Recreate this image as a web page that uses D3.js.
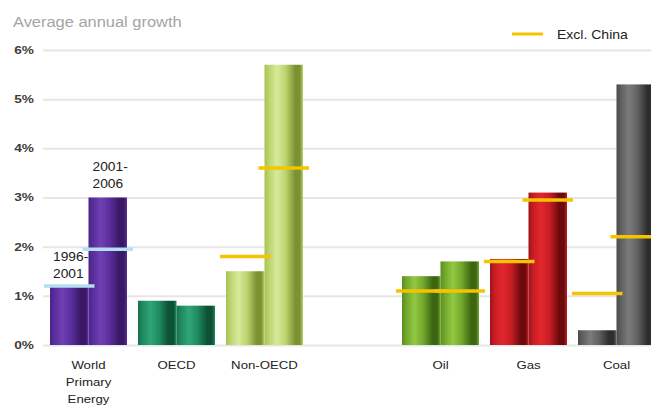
<!DOCTYPE html>
<html>
<head>
<meta charset="utf-8">
<script src="https://cdn.jsdelivr.net/npm/d3@7"></script>
<style>
  html, body { margin: 0; padding: 0; background: #fff; }
  svg { display: block; font-family: "Liberation Sans", Arial, sans-serif; }
</style>
</head>
<body>
<svg id="chart" width="651" height="405"></svg>
<script>
// Energy demand growth by region and fuel, two periods, with "excluding China" markers
const categories = ["World Primary Energy", "OECD", "Non-OECD", "Oil", "Gas", "Coal"];
const categoryLabels = [["World", "Primary", "Energy"], ["OECD"], ["Non-OECD"], ["Oil"], ["Gas"], ["Coal"]];
const periods = ["1996-2001", "2001-2006"];
const growth1996_2001 = [1.2, 0.9, 1.5, 1.4, 1.75, 0.3];
const growth2001_2006 = [3.0, 0.8, 5.7, 1.7, 3.1, 5.3];
const exclChina1996_2001 = [1.2, null, 1.8, 1.1, 1.7, 1.05];
const exclChina2001_2006 = [1.95, null, 3.6, 1.1, 2.95, 2.2];
const yTicks = [0, 1, 2, 3, 4, 5, 6];

// Cylinder shading per category: [edge, light, mid, dark]
const palette = [
  ["#4a2488", "#7040b4", "#5a2e9c", "#3a1866"],
  ["#17704c", "#2fa577", "#1f8a60", "#0d5034"],
  ["#a9c256", "#d9e99a", "#bcd46e", "#7b9132"],
  ["#5c8e20", "#93c842", "#72a82c", "#3d6612"],
  ["#9a1418", "#e2262c", "#c81d24", "#6a0a0c"],
  ["#4a4a4a", "#7c7c7c", "#606060", "#2e2e2e"]
];

const svg = d3.select("#chart");
const W = 651;

// Groups sit in a band scale with an empty slot separating regions from fuels
const slots = ["World Primary Energy", "OECD", "Non-OECD", "__gap", "Oil", "Gas", "Coal"];
const x = d3.scaleBand().domain(slots).range([44.5, 660.5]).paddingInner(0.125).paddingOuter(0.0625);
const xInner = d3.scaleBand().domain(periods).range([0, x.bandwidth()]);
const y = d3.scaleLinear().domain([0, 6]).range([345, 50]);

// Gradients
const defs = svg.append("defs");
palette.forEach((c, i) => {
  const g = defs.append("linearGradient").attr("id", "grad" + i)
    .attr("x1", "0%").attr("x2", "100%").attr("y1", "0%").attr("y2", "0%");
  [[0, c[0]], [0.12, c[2]], [0.32, c[1]], [0.55, c[2]], [0.8, c[3]], [0.92, c[3]], [1, c[2]]]
    .forEach(([o, col]) => g.append("stop").attr("offset", o).attr("stop-color", col));
});

// Title
svg.append("text")
  .attr("transform", "translate(13,27) scale(1.15,1)")
  .attr("font-size", 14.3).attr("fill", "#a4a4a4")
  .text("Average annual growth");

// Y axis with gridlines
const yAxis = svg.append("g").attr("transform", "translate(43,0)")
  .call(d3.axisLeft(y).tickValues(yTicks).tickFormat(d => d + "%")
    .tickSize(-(W - 43)).tickPadding(9));
yAxis.select(".domain").remove();
yAxis.selectAll(".tick line").attr("stroke", "#e6e6e6").attr("stroke-width", 2);
yAxis.selectAll(".tick text")
  .attr("font-size", 10.5).attr("font-weight", "bold").attr("fill", "#3c3c3c")
  .attr("font-family", "'Liberation Sans', Arial, sans-serif")
  .attr("transform", "translate(-9,0) scale(1.3,1) translate(9,0)");

// Bars
const rows = categories.map((c, i) => ({
  cat: c, i,
  vals: [growth1996_2001[i], growth2001_2006[i]],
  excl: [exclChina1996_2001[i], exclChina2001_2006[i]]
}));

const groups = svg.append("g").selectAll("g").data(rows).join("g")
  .attr("transform", d => `translate(${x(d.cat)},0)`);

groups.selectAll("rect").data(d => d.vals.map((v, k) => ({ v, k, i: d.i }))).join("rect")
  .attr("x", d => xInner(periods[d.k]))
  .attr("width", xInner.bandwidth())
  .attr("y", d => y(d.v))
  .attr("height", d => y(0) - y(d.v))
  .attr("fill", d => `url(#grad${d.i})`);

// "Excl. China" markers
groups.selectAll("line.excl")
  .data(d => d.excl.map((v, k) => ({ v, k, i: d.i })).filter(e => e.v != null))
  .join("line").attr("class", "excl")
  .attr("x1", d => xInner(periods[d.k]) - 6)
  .attr("x2", d => xInner(periods[d.k]) + xInner.bandwidth() + 6)
  .attr("y1", d => y(d.v)).attr("y2", d => y(d.v))
  .attr("stroke", d => d.i === 0 ? "#b5def0" : "#f5c400")
  .attr("stroke-width", 3.5);

// Category labels
const xAxis = svg.append("g").attr("transform", `translate(0,${y(0)})`)
  .call(d3.axisBottom(x).tickValues(categories).tickSize(0).tickPadding(0));
xAxis.select(".domain").remove();
xAxis.selectAll(".tick text").each(function (d) {
  const t = d3.select(this).text(null)
    .attr("font-size", 11.5).attr("fill", "#222").attr("y", 0).attr("dy", null)
    .attr("font-family", "'Liberation Sans', Arial, sans-serif")
    .attr("transform", "scale(1.15,1)");
  categoryLabels[categories.indexOf(d)].forEach((line, j) => {
    t.append("tspan").attr("x", 0).attr("y", 24 + j * 17).text(line);
  });
});

// Period annotations on the world group
const wx = x(categories[0]);
const annot = svg.append("g").attr("font-size", 12).attr("fill", "#222");
[[periods[0], wx + xInner(periods[0]) + 3, 261], [periods[1], wx + xInner(periods[1]) + 4, 171]]
  .forEach(([p, ax, ay]) => {
    const [a, b] = p.split("-");
    annot.append("text").attr("transform", `translate(${ax},${ay}) scale(1.15,1)`).text(a + "-");
    annot.append("text").attr("transform", `translate(${ax},${ay + 16.5}) scale(1.15,1)`).text(b);
  });

// Legend
const legend = svg.append("g");
legend.append("line").attr("x1", 512).attr("x2", 543).attr("y1", 34).attr("y2", 34)
  .attr("stroke", "#f5c400").attr("stroke-width", 3);
legend.append("text").attr("transform", "translate(557,39) scale(1.15,1)")
  .attr("font-size", 12.2).attr("fill", "#222").text("Excl. China");
</script>
</body>
</html>
